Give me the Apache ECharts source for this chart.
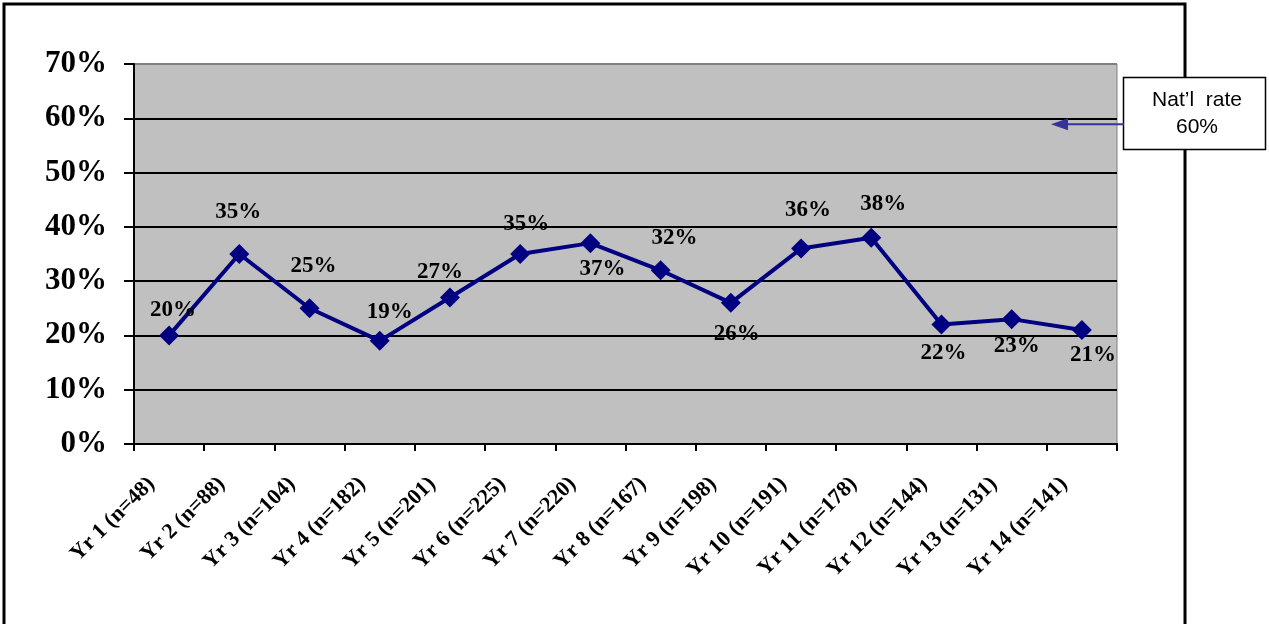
<!DOCTYPE html>
<html>
<head>
<meta charset="utf-8">
<script src="https://cdn.jsdelivr.net/npm/echarts@6/dist/echarts.min.js"></script>
<style>
  html, body { margin: 0; padding: 0; background: #fff; }
  #chart { width: 1269px; height: 624px; }
</style>
</head>
<body>
<div id="chart"></div>
<script>
// Yearly cohorts and their rates (percent)
const categories = [
  'Yr 1 (n=48)', 'Yr 2 (n=88)', 'Yr 3 (n=104)', 'Yr 4 (n=182)', 'Yr 5 (n=201)',
  'Yr 6 (n=225)', 'Yr 7 (n=220)', 'Yr 8 (n=167)', 'Yr 9 (n=198)', 'Yr 10 (n=191)',
  'Yr 11 (n=178)', 'Yr 12 (n=144)', 'Yr 13 (n=131)', 'Yr 14 (n=141)'
];
const rates = [20, 35, 25, 19, 27, 35, 37, 32, 26, 36, 38, 22, 23, 21];
const nationalRate = 60;
const yTicks = { min: 0, max: 70, step: 10 };

// Where each value label sits relative to its point [dx, dy]
const labelOffsets = [
  [4, -25], [-1, -42], [4, -42], [10, -29], [-10, -25], [6, -30], [12, 26],
  [14, -32], [6, 31], [7, -39], [12, -34], [2, 28], [5, 27], [11, 25]
];

const serif = '"Liberation Serif", "Times New Roman", serif';
const sans = '"Liberation Sans", Arial, sans-serif';

const chart = echarts.init(document.getElementById('chart'));

const seriesData = rates.map((v, i) => ({
  value: v,
  label: { offset: labelOffsets[i] }
}));

chart.setOption({
  animation: false,
  backgroundColor: '#ffffff',
  grid: {
    left: 134, right: 152, top: 64, bottom: 180,
    show: true, backgroundColor: '#C0C0C0', borderColor: '#808080', borderWidth: 1
  },
  xAxis: {
    type: 'category',
    data: categories,
    boundaryGap: true,
    axisLine: { lineStyle: { color: '#000', width: 2 } },
    axisTick: { show: true, length: 7, lineStyle: { color: '#000', width: 2 } },
    axisLabel: {
      interval: 0, rotate: 45, margin: 19, padding: [0, 25, 0, 0],
      fontFamily: serif, fontWeight: 'bold', fontSize: 22, color: '#000'
    },
    splitLine: { show: false }
  },
  yAxis: {
    type: 'value',
    min: yTicks.min, max: yTicks.max, interval: yTicks.step,
    axisLine: { show: true, lineStyle: { color: '#000', width: 2 } },
    axisTick: { show: true, length: 10, lineStyle: { color: '#000', width: 2 } },
    axisLabel: {
      margin: 27, formatter: '{value}%',
      fontFamily: serif, fontWeight: 'bold', fontSize: 31, color: '#000'
    },
    splitLine: {
      show: true,
      lineStyle: { color: ['#000', '#000', '#000', '#000', '#000', '#000', '#000', '#808080'], width: 2 }
    }
  },
  series: [{
    type: 'line',
    data: seriesData,
    symbol: 'diamond',
    symbolSize: 20,
    itemStyle: { color: '#000080' },
    lineStyle: { color: '#000080', width: 4 },
    label: {
      show: true, position: 'inside',
      formatter: p => p.value + '%',
      fontFamily: serif, fontWeight: 'bold', fontSize: 23, color: '#000'
    },
    z: 3
  }]
});

// Outer frame, national-rate callout and its arrow
const arrowY = chart.convertToPixel({ yAxisIndex: 0 }, nationalRate) + 6;
chart.setOption({
  graphic: [
    {
      type: 'polyline', silent: true, z: 100,
      shape: { points: [[4, 640], [4, 4], [1185, 4], [1185, 640]] },
      style: { stroke: '#000', lineWidth: 3, fill: null }
    },
    {
      type: 'rect', z: 101,
      shape: { x: 1123.5, y: 77.5, width: 142, height: 72 },
      style: { fill: '#fff', stroke: '#000', lineWidth: 1.5 }
    },
    {
      type: 'text', z: 102,
      style: {
        x: 1197, y: 114, text: 'Nat\u2019l  rate\n60%',
        font: '21px ' + sans, fill: '#000', align: 'center', verticalAlign: 'middle', lineHeight: 27
      }
    },
    {
      type: 'line', z: 101,
      shape: { x1: 1124, y1: arrowY, x2: 1064, y2: arrowY },
      style: { stroke: '#333399', lineWidth: 2 }
    },
    {
      type: 'polygon', z: 101,
      shape: { points: [[1051, arrowY], [1068, arrowY - 6], [1068, arrowY + 6]] },
      style: { fill: '#333399' }
    }
  ]
});
</script>
</body>
</html>
